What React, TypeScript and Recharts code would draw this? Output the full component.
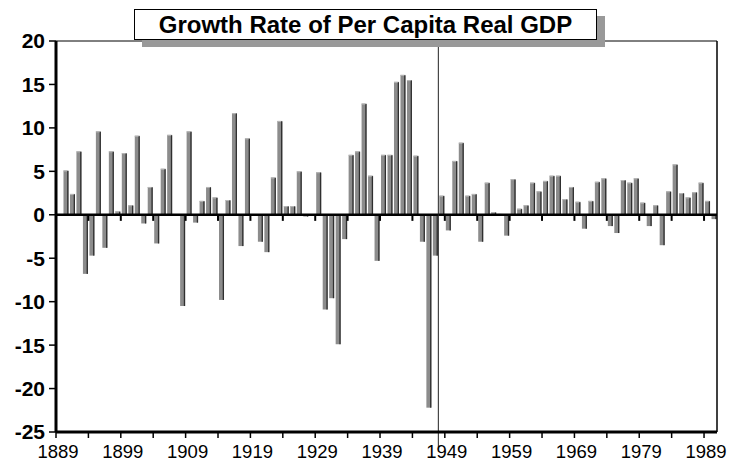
import React from 'react';
import { BarChart, Bar, XAxis, YAxis, ReferenceLine } from 'recharts';

const chartTitle = 'Growth Rate of Per Capita Real GDP';

const years = [
  1889, 1890, 1891, 1892, 1893, 1894, 1895, 1896, 1897, 1898,
  1899, 1900, 1901, 1902, 1903, 1904, 1905, 1906, 1907, 1908,
  1909, 1910, 1911, 1912, 1913, 1914, 1915, 1916, 1917, 1918,
  1919, 1920, 1921, 1922, 1923, 1924, 1925, 1926, 1927, 1928,
  1929, 1930, 1931, 1932, 1933, 1934, 1935, 1936, 1937, 1938,
  1939, 1940, 1941, 1942, 1943, 1944, 1945, 1946, 1947, 1948,
  1949, 1950, 1951, 1952, 1953, 1954, 1955, 1956, 1957, 1958,
  1959, 1960, 1961, 1962, 1963, 1964, 1965, 1966, 1967, 1968,
  1969, 1970, 1971, 1972, 1973, 1974, 1975, 1976, 1977, 1978,
  1979, 1980, 1981, 1982, 1983, 1984, 1985, 1986, 1987, 1988,
  1989, 1990,
];

const growthRates: (number | null)[] = [
  null, 5.1, 2.4, 7.3, -6.8, -4.7, 9.6, -3.8, 7.3, 0.4,
  7.1, 1.1, 9.1, -1.0, 3.2, -3.3, 5.3, 9.2, -0.1, -10.5,
  9.6, -0.9, 1.6, 3.2, 2.0, -9.8, 1.7, 11.7, -3.6, 8.8,
  0, -3.1, -4.3, 4.3, 10.8, 1.0, 1.0, 5.0, -0.2, 0,
  4.9, -10.9, -9.6, -14.9, -2.8, 6.9, 7.3, 12.8, 4.5, -5.3,
  6.9, 6.9, 15.3, 16.1, 15.5, 6.8, -3.1, -22.2, -4.7, 2.2,
  -1.8, 6.2, 8.3, 2.2, 2.4, -3.1, 3.7, 0.3, 0.1, -2.4,
  4.1, 0.7, 1.1, 3.7, 2.7, 3.9, 4.5, 4.5, 1.8, 3.2,
  1.5, -1.6, 1.6, 3.8, 4.2, -1.3, -2.1, 4.0, 3.7, 4.2,
  1.4, -1.3, 1.1, -3.5, 2.7, 5.8, 2.5, 2.0, 2.6, 3.7,
  1.6, -0.5,
];

const yTicks = [20, 15, 10, 5, 0, -5, -10, -15, -20, -25];
const xTickYears = ['1889', '1894', '1899', '1904', '1909', '1914', '1919', '1924', '1929', '1934', '1939', '1944', '1949', '1954', '1959', '1964', '1969', '1974', '1979', '1984', '1989'];
const xLabelYears = ['1889', '1899', '1909', '1919', '1929', '1939', '1949', '1959', '1969', '1979', '1989'];
const dividerYear = '1948';
const lastYear = '1990';

const data = years.map((yr, i) => ({ year: String(yr), growth: growthRates[i] }));

const FONT = '"Liberation Sans", Arial, Helvetica, sans-serif';

const BarShape = (props: any) => {
  const { x, y, width, height } = props;
  if (x == null || y == null || !width || !height) return null;
  const top = Math.min(y, y + height);
  const h = Math.abs(height);
  const w = width;
  return (
    <g>
      <rect x={x} y={top} width={w} height={h} fill="#8c8c8c" />
      <rect x={x + w - 1.3} y={top + 0.5} width={1.3} height={Math.max(h - 0.5, 0)} fill="#2f2f2f" />
      <rect x={x} y={top} width={w - 1.3} height={Math.min(1, h)} fill="#b8b8b8" />
    </g>
  );
};

const XTick = (props: any) => {
  const { x, y, payload } = props;
  const off = payload && payload.offset != null ? payload.offset : 0;
  const bx = x - off;
  const labeled = xLabelYears.indexOf(String(payload.value)) >= 0;
  return (
    <g>
      <line x1={bx} x2={bx} y1={y} y2={y + 6} stroke="#000" strokeWidth={1.5} />
      {labeled && (
        <text x={bx + 2} y={y + 26.3} textAnchor="middle" fontSize={18.5} fontFamily={FONT} fill="#000">
          {payload.value}
        </text>
      )}
    </g>
  );
};

export default function App() {
  return (
    <div style={{ position: 'absolute', left: 0, top: 0, width: 731, height: 462, background: '#fff' }}>
      <BarChart
        width={731}
        height={462}
        data={data}
        margin={{ top: 41, right: 14, bottom: 0, left: 0 }}
        barSize={5}
      >
        <XAxis
          dataKey="year"
          ticks={xTickYears}
          interval={0}
          tickSize={0}
          tickMargin={0}
          tickLine={false}
          axisLine={{ stroke: '#000', strokeWidth: 3 }}
          height={30}
          tick={<XTick />}
        />
        <YAxis
          type="number"
          domain={[-25, 20]}
          ticks={yTicks}
          interval={0}
          width={56}
          tickSize={7}
          tickMargin={4}
          axisLine={{ stroke: '#000', strokeWidth: 3 }}
          tickLine={{ stroke: '#000', strokeWidth: 1.5 }}
          tick={{ fontSize: 21, fontWeight: 'bold', fontFamily: FONT, fill: '#000' }}
        />
        <ReferenceLine y={20} stroke="#000" strokeWidth={1} />
        <ReferenceLine x={lastYear} position="end" stroke="#000" strokeWidth={1.5} />
        <Bar dataKey="growth" isAnimationActive={false} shape={<BarShape />} />
        <ReferenceLine y={0} stroke="#000" strokeWidth={2.5} />
        {xTickYears.slice(1).map((yr) => (
          <ReferenceLine
            key={yr}
            segment={[{ x: yr, y: 0 }, { x: yr, y: -0.7 }]}
            position="start"
            stroke="#000"
            strokeWidth={2}
          />
        ))}
        <ReferenceLine
          segment={[{ x: dividerYear, y: 20 }, { x: dividerYear, y: -26.7 }]}
          position="start"
          ifOverflow="visible"
          stroke="#222"
          strokeWidth={1}
        />
      </BarChart>
      <div
        style={{
          position: 'absolute',
          left: 134,
          top: 9,
          width: 463,
          height: 31,
          boxSizing: 'border-box',
          border: '1px solid #000',
          background: '#fff',
          boxShadow: '8px 7px 0 #999',
          fontFamily: FONT,
          fontWeight: 'bold',
          fontSize: 24,
          lineHeight: '29px',
          textAlign: 'center',
          color: '#000',
          whiteSpace: 'nowrap',
        }}
      >
        {chartTitle}
      </div>
    </div>
  );
}
